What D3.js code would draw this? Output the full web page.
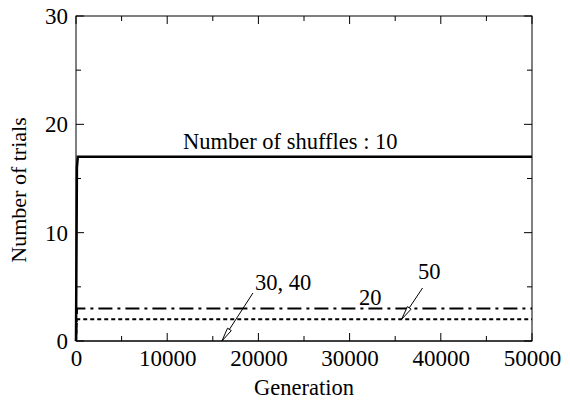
<!DOCTYPE html>
<html><head><meta charset="utf-8">
<script src="https://cdn.jsdelivr.net/npm/d3@7"></script>
</head>
<body style="margin:0;background:#fff">
<svg id="c" width="570" height="407" style="display:block"></svg>
<script>
// ---- data ----
const xTicks = [0, 10000, 20000, 30000, 40000, 50000];
const yTicks = [0, 10, 20, 30];
const gen10 = [0, 100, 200, 50000];
const trials10 = [0, 16, 17, 17];
const gen20 = [0, 100, 50000];
const trials20 = [0, 3, 3];
const gen50 = [0, 100, 50000];
const trials50 = [0, 2, 2];
const gen3040 = [0, 50000];
const trials3040 = [0, 0];
const seriesLabels = ["Number of shuffles : 10", "20", "50", "30, 40"];

const FONT = "Liberation Serif";
const svg = d3.select("#c");
const m = {l:76, r:532, t:16, b:341};
const x = d3.scaleLinear().domain([0,50000]).range([m.l, m.r]);
const y = d3.scaleLinear().domain([0,30]).range([m.b, m.t]);

// frame
svg.append("rect").attr("x",m.l).attr("y",m.t).attr("width",m.r-m.l).attr("height",m.b-m.t)
  .attr("fill","none").attr("stroke","#000").attr("stroke-width",1);

// ticks (inward, major and minor)
const minorX = d3.range(0,50001,5000);
const minorY = d3.range(0,31,5);
minorX.forEach(v=>{
  const L = (v%10000===0)?8:5;
  svg.append("line").attr("x1",x(v)).attr("x2",x(v)).attr("y1",m.b).attr("y2",m.b-L).attr("stroke","#000");
  svg.append("line").attr("x1",x(v)).attr("x2",x(v)).attr("y1",m.t).attr("y2",m.t+L).attr("stroke","#000");
});
minorY.forEach(v=>{
  const L = (v%10===0)?8:5;
  svg.append("line").attr("x1",m.l).attr("x2",m.l+L).attr("y1",y(v)).attr("y2",y(v)).attr("stroke","#000");
  svg.append("line").attr("x1",m.r).attr("x2",m.r-L).attr("y1",y(v)).attr("y2",y(v)).attr("stroke","#000");
});

// tick labels via axes
const xAxis = d3.axisBottom(x).tickValues(xTicks).tickSize(0).tickPadding(9).tickFormat(d3.format("d"));
const gx = svg.append("g").attr("transform",`translate(0,${m.b})`).call(xAxis);
gx.select(".domain").remove();
gx.selectAll("text").style("font-size","23px").style("font-family",FONT).style("fill","#000");
const yAxis = d3.axisLeft(y).tickValues(yTicks).tickSize(0).tickPadding(8).tickFormat(d3.format("d"));
const gy = svg.append("g").attr("transform",`translate(${m.l},0)`).call(yAxis);
gy.select(".domain").remove();
gy.selectAll("text").style("font-size","23px").style("font-family",FONT).style("fill","#000");

function label(xp, yp, s){
  return svg.append("text").attr("x",xp).attr("y",yp)
    .style("font-family",FONT).style("font-size","22.5px").style("fill","#000").text(s);
}
// axis titles
label((m.l+m.r)/2, 395, "Generation").attr("text-anchor","middle");
svg.append("text").attr("transform","translate(26,190) rotate(-90)").attr("text-anchor","middle")
  .style("font-family",FONT).style("font-size","22px").style("fill","#000").text("Number of trials");

// lines
const line = d3.line().x(d=>x(d[0])).y(d=>y(d[1]));
const z = (g,t)=>g.map((v,i)=>[v,t[i]]);
const plot = svg.append("g");
plot.append("path").datum(z(gen3040,trials3040)).attr("d",line).attr("fill","none").attr("stroke","#000").attr("stroke-width",1.2);
plot.append("path").datum(z(gen50,trials50)).attr("d",line).attr("fill","none").attr("stroke","#000").attr("stroke-width",2).attr("stroke-dasharray","4,3");
plot.append("path").datum(z(gen20,trials20)).attr("d",line).attr("fill","none").attr("stroke","#000").attr("stroke-width",2.2).attr("stroke-dasharray","14,5,3,5");
plot.append("path").datum(z(gen10,trials10)).attr("d",line).attr("fill","none").attr("stroke","#000").attr("stroke-width",2.5);

// annotations
label(183, 149, seriesLabels[0]);
label(359, 305, seriesLabels[1]);
label(418, 279, seriesLabels[2]);
label(255, 290, seriesLabels[3]);

function arrow(x1,y1,x2,y2){
  svg.append("line").attr("x1",x1).attr("y1",y1).attr("x2",x2).attr("y2",y2).attr("stroke","#000").attr("stroke-width",1);
  const a = Math.atan2(y2-y1,x2-x1), L=14, w=0.16;
  const p1=[x2-L*Math.cos(a-w), y2-L*Math.sin(a-w)];
  const p2=[x2-L*Math.cos(a+w), y2-L*Math.sin(a+w)];
  svg.append("path").attr("d",`M${p1}L${x2},${y2}L${p2}Z`).attr("fill","#fff").attr("stroke","#000").attr("stroke-width",1);
}
arrow(x(19400), 293, x(16000), y(0));
arrow(x(38000), 288, x(35700), y(2));
</script>
</body></html>
